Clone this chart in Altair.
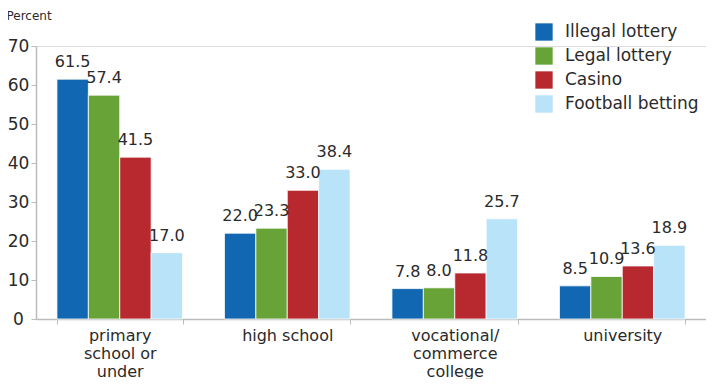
import altair as alt
import pandas as pd

categories = ["primary|school or|under", "high school", "vocational/|commerce|college", "university"]
series = ["Illegal lottery", "Legal lottery", "Casino", "Football betting"]
colors = ["#1167b1", "#67a337", "#b7282f", "#b8e3f8"]
illegal = [61.5, 22.0, 7.8, 8.5]
legal = [57.4, 23.3, 8.0, 10.9]
casino = [41.5, 33.0, 11.8, 13.6]
football = [17.0, 38.4, 25.7, 18.9]
y_ticks = [0, 10, 20, 30, 40, 50, 60, 70]

rows = []
for s, vals in zip(series, [illegal, legal, casino, football]):
    for c, v in zip(categories, vals):
        rows.append({"cat": c, "series": s, "value": v, "label": f"{v:.1f}"})
df = pd.DataFrame(rows)

FONT = "DejaVu Sans"
TXT = "#2a2a2a"

x = alt.X("cat:N", sort=categories, title=None,
          scale=alt.Scale(paddingInner=0.25, paddingOuter=0.125),
          axis=alt.Axis(labelExpr="split(datum.label, '|')", labelAngle=0,
                        labelFontSize=16, labelFont=FONT, labelColor=TXT,
                        labelLineHeight=18, labelPadding=3, labelBaseline="top",
                        tickBand="extent", tickSize=5, tickColor="#bbbbbb",
                        domainColor="#bbbbbb", domainWidth=1.5))
xo = alt.XOffset("series:N", sort=series)
y = alt.Y("value:Q", scale=alt.Scale(domain=[0, 70]),
          axis=alt.Axis(values=y_ticks, tickCount=8, grid=False,
                        labelOverlap=False,
                        labelFontSize=17, labelFont=FONT, labelColor=TXT,
                        labelAlign="center", labelPadding=13, tickSize=5,
                        tickColor="#bbbbbb", domainColor="#bbbbbb", domainWidth=1.5,
                        title="Percent", titleAngle=0, titleAlign="left",
                        titleX=-30, titleY=-24, titleFontSize=12,
                        titleFont=FONT, titleFontWeight="normal", titleColor=TXT))

bars = alt.Chart(df).mark_bar(stroke="white", strokeWidth=0.8).encode(
    x=x, xOffset=xo, y=y,
    color=alt.Color("series:N", sort=series,
                    scale=alt.Scale(domain=series, range=colors),
                    legend=alt.Legend(title=None, orient="none", legendX=499, legendY=-23,
                                      symbolType="square", symbolSize=300,
                                      symbolStrokeWidth=0, labelFontSize=17,
                                      labelFont=FONT, labelColor=TXT,
                                      rowPadding=6, labelOffset=12)),
)

text = alt.Chart(df).mark_text(dy=-9, baseline="bottom", fontSize=16, font=FONT,
                               color=TXT).encode(
    x=x, xOffset=xo, y=y, text="label:N")

chart = alt.layer(bars, text).properties(
    width=670, height=273,
    autosize=alt.AutoSizeParams(type="none"),
    padding={"left": 28, "top": 38, "right": 0, "bottom": 60},
).configure_view(stroke=None).configure(background="white")

chart.save("out.html", embed_options={"renderer": "svg", "actions": False})
